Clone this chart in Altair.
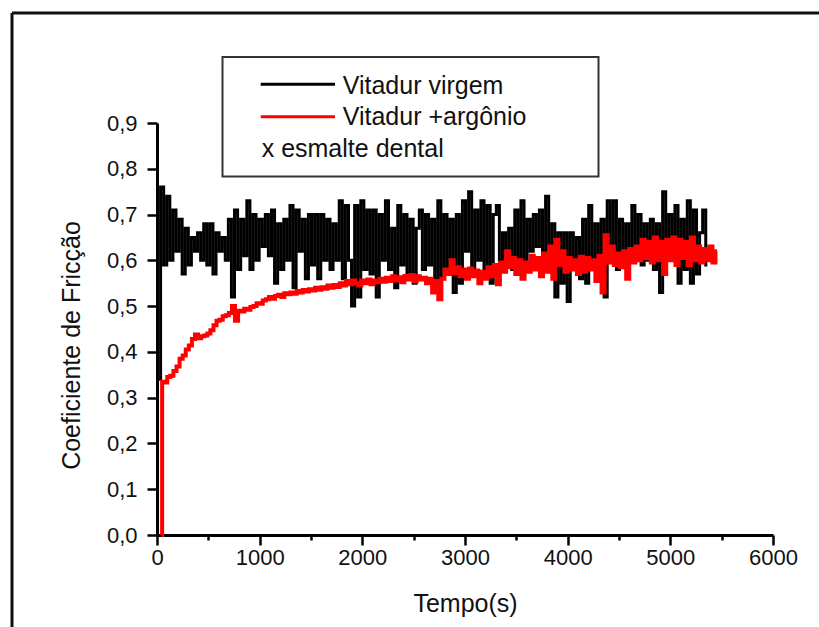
import altair as alt
import pandas as pd

# ---------------- data ----------------
series_names = ["Vitadur virgem", "Vitadur +argônio"]
series_colors = ["#000000", "#ff0000"]
legend_note = "x esmalte dental"
x_title = "Tempo(s)"
y_title = "Coeficiente de Fricção"

x_ticks = [0, 500, 1000, 1500, 2000, 2500, 3000, 3500, 4000, 4500, 5000, 5500, 6000]
y_ticks = [0.0, 0.05, 0.1, 0.15, 0.2, 0.25, 0.3, 0.35, 0.4, 0.45,
           0.5, 0.55, 0.6, 0.65, 0.7, 0.75, 0.8, 0.85, 0.9]

# Vitadur virgem: sampled every 30 s starting at 20 s
black_start, black_step = 20, 30
black_values = [
    0.34, 0.76, 0.59, 0.74, 0.60, 0.71, 0.62, 0.69, 0.57, 0.67,
    0.59, 0.65, 0.62, 0.66, 0.60, 0.68, 0.59, 0.68, 0.57, 0.66,
    0.62, 0.65, 0.60, 0.69, 0.52, 0.71, 0.58, 0.69, 0.61, 0.73,
    0.58, 0.70, 0.60, 0.69, 0.63,
    0.70, 0.61, 0.71, 0.55, 0.68, 0.58, 0.69, 0.60, 0.72, 0.54,
    0.71, 0.62, 0.69, 0.56, 0.70, 0.59, 0.70, 0.56, 0.70, 0.60,
    0.69, 0.58, 0.68, 0.60, 0.73, 0.56, 0.72, 0.60, 0.50, 0.72,
    0.52, 0.73, 0.58, 0.71, 0.57, 0.71, 0.52, 0.70,
    0.60, 0.73, 0.58, 0.67, 0.54, 0.72, 0.59, 0.70, 0.57, 0.69,
    0.55, 0.67, 0.71, 0.58, 0.70, 0.59, 0.69, 0.55, 0.73, 0.56,
    0.70, 0.58, 0.69, 0.53, 0.70, 0.55, 0.73, 0.62, 0.75, 0.57,
    0.71, 0.60, 0.73, 0.58, 0.72, 0.55, 0.70,
    0.72, 0.60, 0.66, 0.60, 0.67, 0.58, 0.71, 0.60, 0.73, 0.58,
    0.69, 0.62, 0.70, 0.63, 0.71, 0.62, 0.74, 0.58, 0.68, 0.52,
    0.66, 0.55, 0.66, 0.51, 0.66, 0.58, 0.65, 0.56, 0.69, 0.55,
    0.72, 0.59, 0.68, 0.56, 0.69, 0.52, 0.73,
    0.60, 0.73, 0.58, 0.69, 0.60, 0.68, 0.62, 0.72, 0.61, 0.70,
    0.59, 0.68, 0.60, 0.69, 0.58, 0.68, 0.53, 0.75, 0.60, 0.70,
    0.61, 0.72, 0.55, 0.69, 0.58, 0.73, 0.55, 0.71, 0.57, 0.66,
    0.71, 0.59,
]

# Vitadur +argônio: first point at 45 s, then every 30 s from 55 s
red_first_time, red_first_value = 45, 0.0
red_start, red_step = 55, 30
red_values = [
    0.335, 0.333, 0.345, 0.348, 0.358, 0.368, 0.385, 0.392, 0.405, 0.414,
    0.428, 0.438, 0.430, 0.434, 0.436, 0.440, 0.447, 0.458, 0.468, 0.470,
    0.478, 0.480, 0.485, 0.500, 0.468, 0.490, 0.488, 0.494, 0.492, 0.498,
    0.500, 0.506, 0.505, 0.512, 0.515, 0.520, 0.516, 0.522, 0.525, 0.520,
    0.528, 0.526, 0.530, 0.527, 0.533, 0.530, 0.535, 0.532, 0.537, 0.534,
    0.540, 0.536, 0.541, 0.538, 0.545, 0.540, 0.546, 0.542, 0.550, 0.545,
    0.555, 0.548, 0.556, 0.550, 0.545, 0.556, 0.550, 0.558, 0.548, 0.556,
    0.552, 0.560, 0.553, 0.562, 0.555, 0.565, 0.556, 0.563, 0.552, 0.566,
    0.558, 0.568, 0.555, 0.565, 0.558, 0.562, 0.550, 0.560, 0.530, 0.555,
    0.515, 0.560, 0.580, 0.570, 0.600, 0.572, 0.585, 0.565, 0.580, 0.560,
    0.582, 0.565, 0.578, 0.550, 0.575, 0.560, 0.585, 0.565, 0.590, 0.548,
    0.595, 0.575, 0.620, 0.585, 0.605, 0.570, 0.600, 0.560, 0.595, 0.575,
    0.610, 0.580, 0.605, 0.565, 0.615, 0.575, 0.630, 0.560, 0.645, 0.590,
    0.620, 0.575, 0.605, 0.580, 0.600, 0.570, 0.608, 0.575, 0.605, 0.580,
    0.600, 0.555, 0.610, 0.530, 0.655, 0.595, 0.630, 0.590, 0.615, 0.585,
    0.620, 0.560, 0.625, 0.595, 0.630, 0.600, 0.645, 0.605, 0.640, 0.595,
    0.650, 0.600, 0.640, 0.570, 0.645, 0.600, 0.650, 0.590, 0.645, 0.605,
    0.640, 0.590, 0.650, 0.600, 0.630, 0.595, 0.625, 0.600, 0.630, 0.595,
    0.620,
]

black_df = pd.DataFrame({
    "t": [black_start + black_step * i for i in range(len(black_values))],
    "v": black_values,
})
red_df = pd.DataFrame({
    "t": [red_first_time] + [red_start + red_step * i for i in range(len(red_values))],
    "v": [red_first_value] + red_values,
})

# ---------------- styling ----------------
FONT = "Liberation Sans"
INK = "#111111"

x_scale = alt.Scale(domain=[0, 6000], nice=False, zero=False)
y_scale = alt.Scale(domain=[0, 0.9], nice=False, zero=False)

x_axis = alt.Axis(
    values=x_ticks,
    title=x_title,
    labelExpr="datum.value % 1000 === 0 ? format(datum.value, 'd') : ''",
    tickSize={"condition": {"test": "datum.value % 1000 === 0", "value": 10}, "value": 5},
    tickWidth=2.5, tickColor="black",
    domainWidth=3, domainColor="black",
    labelFont=FONT, labelFontSize=22, labelColor=INK, labelPadding=2,
    labelOverlap=False, labelFlush=False,
    titleFont=FONT, titleFontSize=25, titleFontWeight="normal", titleColor=INK,
    titleY=76, titleBaseline="alphabetic",
    grid=False,
)
y_axis = alt.Axis(
    values=y_ticks,
    title=y_title,
    labelExpr="round(datum.value * 100) % 10 === 0 ? replace(format(datum.value, '.1f'), '.', ',') : ''",
    tickSize={"condition": {"test": "round(datum.value * 100) % 10 === 0", "value": 10}, "value": 5},
    tickWidth=2.5, tickColor="black",
    domainWidth=3, domainColor="black",
    labelFont=FONT, labelFontSize=22, labelColor=INK, labelPadding=10,
    labelOverlap=False, labelFlush=False,
    titleFont=FONT, titleFontSize=25, titleFontWeight="normal", titleColor=INK,
    titleAngle=270, titleX=-78, titleY=222, titleAlign="center", titleBaseline="alphabetic",
    grid=False,
)

black_line = alt.Chart(black_df).mark_line(
    color=series_colors[0], strokeWidth=3, interpolate="step"
).encode(
    x=alt.X("t:Q", scale=x_scale, axis=x_axis),
    y=alt.Y("v:Q", scale=y_scale, axis=y_axis),
)
red_line = alt.Chart(red_df).mark_line(
    color=series_colors[1], strokeWidth=4, interpolate="step"
).encode(
    x=alt.X("t:Q", scale=x_scale),
    y=alt.Y("v:Q", scale=y_scale),
)

one = pd.DataFrame({"k": [0]})

# outer frame of the figure
frame_top = alt.Chart(one).mark_rule(color=INK, strokeWidth=3).encode(
    x=alt.value(-145), x2=alt.value(700), y=alt.value(-110))
frame_left = alt.Chart(one).mark_rule(color=INK, strokeWidth=3).encode(
    x=alt.value(-145), y=alt.value(-110), y2=alt.value(520))

# legend box
legend_box = alt.Chart(one).mark_rect(fill="white", stroke="#333333", strokeWidth=2).encode(
    x=alt.value(65.5), x2=alt.value(441.5), y=alt.value(-66), y2=alt.value(53.5))
leg_black = alt.Chart(one).mark_rule(color=series_colors[0], strokeWidth=3).encode(
    x=alt.value(103.7), x2=alt.value(178), y=alt.value(-38.7))
leg_red = alt.Chart(one).mark_rule(color=series_colors[1], strokeWidth=3).encode(
    x=alt.value(103.7), x2=alt.value(178), y=alt.value(-6.3))
txt_kw = dict(align="left", baseline="alphabetic", font=FONT, fontSize=25, color=INK)
leg_t1 = alt.Chart(one).mark_text(**txt_kw).encode(
    x=alt.value(185.7), y=alt.value(-29), text=alt.value(series_names[0]))
leg_t2 = alt.Chart(one).mark_text(**txt_kw).encode(
    x=alt.value(185.7), y=alt.value(2), text=alt.value(series_names[1]))
leg_t3 = alt.Chart(one).mark_text(**txt_kw).encode(
    x=alt.value(104.7), y=alt.value(34.3), text=alt.value(legend_note))

chart = alt.layer(
    black_line, red_line,
    frame_top, frame_left,
    legend_box, leg_black, leg_red, leg_t1, leg_t2, leg_t3,
).properties(
    width=616, height=412,
    padding={"left": 157, "top": 123, "right": 46, "bottom": 92},
    autosize=alt.AutoSizeParams(type="none"),
    background="white",
).configure_view(stroke=None)

chart.save("out.html", embed_options={"renderer": "svg", "actions": False})
